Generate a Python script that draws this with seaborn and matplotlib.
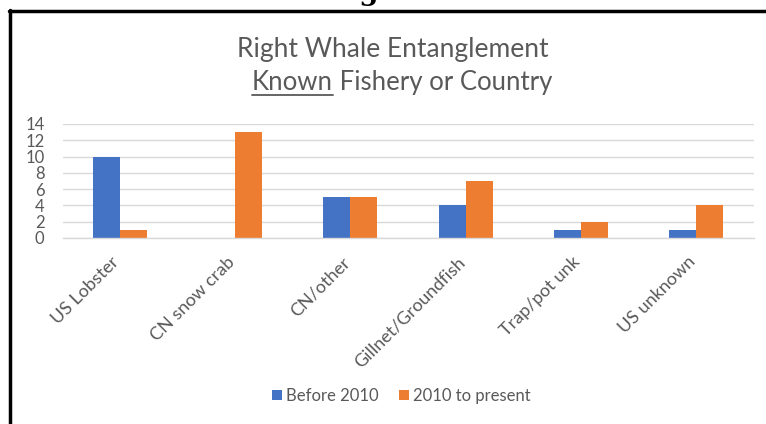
import matplotlib
matplotlib.use("Agg")
import matplotlib.pyplot as plt
import matplotlib.transforms as mtransforms
import seaborn as sns
import pandas as pd
from matplotlib.patches import Patch
from matplotlib.lines import Line2D

categories = ["US Lobster", "CN snow crab", "CN/other", "Gillnet/Groundfish", "Trap/pot unk", "US unknown"]
before_2010 = [10, 0, 5, 4, 1, 1]
since_2010 = [1, 13, 5, 7, 2, 4]
series_names = ["Before 2010", "2010 to present"]
yticks = [0, 2, 4, 6, 8, 10, 12, 14]

df = pd.DataFrame({
    "category": categories * 2,
    "value": before_2010 + since_2010,
    "series": [series_names[0]] * len(categories) + [series_names[1]] * len(categories),
})

sns.set_theme(style="white")
plt.rcParams['font.family'] = ['Lato', 'DejaVu Sans']

W, H = 766, 424
fig = plt.figure(figsize=(W / 100, H / 100), dpi=100)
fig.patch.set_facecolor("white")
TXT = "#595959"

ax = fig.add_axes([62.5 / W, (H - 238) / H, (753.5 - 62.5) / W, (238 - 124) / H])
colors = {"Before 2010": "#4472C4", "2010 to present": "#ED7D31"}
sns.barplot(data=df, x="category", y="value", hue="series", order=categories,
            hue_order=series_names, palette=colors, width=0.47, gap=0,
            saturation=1, ax=ax, legend=False, linewidth=0)

ax.set_ylim(0, 14)
ax.set_xlim(-0.5, len(categories) - 0.5)
ax.set_yticks(yticks)
ax.set_yticklabels([str(t) for t in yticks], fontsize=12, color=TXT)
ax.tick_params(axis="y", length=0, pad=13)
ax.tick_params(axis="x", length=0, pad=2)
ax.set_xticks(range(len(categories)))
ax.set_xticklabels(categories, rotation=45, ha="right", va="top", rotation_mode="anchor",
                   fontsize=13, color=TXT)
offset = mtransforms.ScaledTranslation(-0.09, -0.13, fig.dpi_scale_trans)
for lbl in ax.get_xticklabels():
    lbl.set_transform(lbl.get_transform() + offset)
ax.set_xlabel("")
ax.set_ylabel("")
ax.grid(axis="y", color="#D9D9D9", linewidth=1)
ax.set_axisbelow(True)
for s in ["top", "right", "left"]:
    ax.spines[s].set_visible(False)
ax.spines["bottom"].set_color("#D9D9D9")
ax.spines["bottom"].set_linewidth(1)

# Title
fig.text(393 / W, 1 - 57 / H, "Right Whale Entanglement", ha="center", va="baseline",
         fontsize=19, color=TXT)
renderer = fig.canvas.get_renderer()
t_known = fig.text(0, 1 - 90 / H, "Known", ha="left", va="baseline", fontsize=18.5, color=TXT)
t_rest = fig.text(0, 1 - 90 / H, " Fishery or Country", ha="left", va="baseline", fontsize=18.5, color=TXT)
w_known = t_known.get_window_extent(renderer).width
w_rest = t_rest.get_window_extent(renderer).width
x_start = 402 - (w_known + w_rest) / 2
t_known.set_x(x_start / W)
t_rest.set_x((x_start + w_known) / W)
fig.add_artist(Line2D([x_start / W, (x_start + w_known) / W], [1 - 95 / H, 1 - 95 / H],
                      color=TXT, linewidth=1.3))

# Legend
handles = [Patch(facecolor=colors[s], edgecolor="none") for s in series_names]
fig.legend(handles, series_names, loc="center", bbox_to_anchor=(401 / W, 1 - 396 / H),
           ncol=2, frameon=False, fontsize=12, handlelength=0.6, handleheight=0.6,
           handletextpad=0.25, columnspacing=1.2, labelcolor=TXT)

# Frame border (top and left)
fig.add_artist(Line2D([9 / W, 1], [1 - 10.5 / H, 1 - 10.5 / H], color="black", linewidth=2.5))
fig.add_artist(Line2D([9.5 / W, 9.5 / W], [0, 1 - 9.5 / H], color="black", linewidth=2.5))

# Clipped heading above frame
fig.text(329 / W, 1.0, "Figure 6", ha="left", va="baseline", fontsize=20,
         fontweight="bold", family="DejaVu Serif", color="black")

fig.savefig("out.png", dpi=100, facecolor="white")
